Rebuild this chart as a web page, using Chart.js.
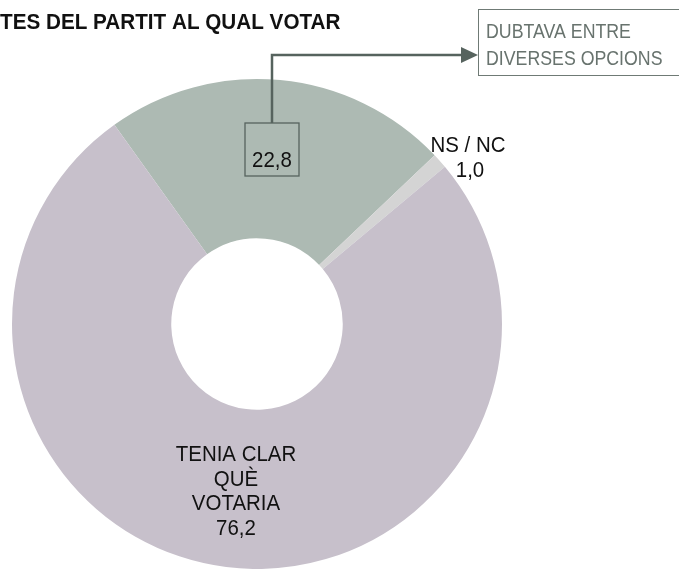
<!DOCTYPE html>
<html>
<head>
<meta charset="utf-8">
<script src="https://cdn.jsdelivr.net/npm/chart.js@4"></script>
<style>
  body { margin: 0; background: #fff; }
  #wrap { width: 679px; height: 569px; overflow: hidden; }
</style>
</head>
<body>
<div id="wrap"><canvas id="chart" width="679" height="569"></canvas></div>
<script>
// dades del gràfic
const categories = ["DUBTAVA ENTRE DIVERSES OPCIONS", "NS / NC", "TENIA CLAR QUÈ VOTARIA"];
const values = [22.8, 1.0, 76.2];
const valueLabels = ["22,8", "1,0", "76,2"];
const sliceColors = ["#adbab3", "#d4d4d4", "#c7c0cb"];
const titleText = "TES DEL PARTIT AL QUAL VOTAR";
const calloutLines = ["DUBTAVA ENTRE", "DIVERSES OPCIONS"];
const mainLabelLines = ["TENIA CLAR", "QUÈ", "VOTARIA"];

const lineColor = "#56635e";

// text una mica estret, com l'Arial de l'original
function drawText(ctx, text, x, y, size, sx, bold, align) {
  ctx.save();
  ctx.translate(x, y);
  ctx.scale(sx, 1);
  ctx.font = (bold ? "bold " : "") + size + "px 'Liberation Sans', Arial, sans-serif";
  ctx.textAlign = align;
  ctx.textBaseline = "alphabetic";
  ctx.fillText(text, 0, 0);
  ctx.restore();
}

// dibuixa títol, etiquetes i la fletxa cap al requadre
const labelsPlugin = {
  id: "labels",
  afterDraw(chart) {
    const ctx = chart.ctx;
    const arc = chart.getDatasetMeta(0).data[0];
    const cx = arc.x;
    const cy = arc.y;

    ctx.save();
    ctx.fillStyle = "#111";
    drawText(ctx, titleText, 0, 29, 22, 0.94, true, "left");

    // requadre "22,8"
    ctx.strokeStyle = lineColor;
    ctx.lineWidth = 1.3;
    ctx.strokeRect(cx - 12, cy - 201, 54, 53);
    ctx.fillStyle = "#111";
    drawText(ctx, valueLabels[0], cx + 15, cy - 157, 22, 0.93, false, "center");

    // fletxa
    ctx.lineWidth = 2.5;
    ctx.beginPath();
    ctx.moveTo(cx + 15, cy - 201);
    ctx.lineTo(cx + 15, cy - 269);
    ctx.lineTo(cx + 206, cy - 269);
    ctx.stroke();
    ctx.fillStyle = lineColor;
    ctx.beginPath();
    ctx.moveTo(cx + 204, cy - 277);
    ctx.lineTo(cx + 221, cy - 269);
    ctx.lineTo(cx + 204, cy - 261);
    ctx.closePath();
    ctx.fill();

    // requadre de la dreta
    ctx.lineWidth = 1;
    ctx.strokeStyle = "#6f7a75";
    ctx.strokeRect(478.5, 9.5, 240, 66);
    ctx.fillStyle = "#68736e";
    drawText(ctx, calloutLines[0], 486, 38, 19.5, 0.91, false, "left");
    drawText(ctx, calloutLines[1], 486, 65, 19.5, 0.91, false, "left");

    // NS / NC
    ctx.fillStyle = "#111";
    drawText(ctx, categories[1], cx + 211, cy - 172, 22, 0.93, false, "center");
    drawText(ctx, valueLabels[1], cx + 213, cy - 147, 22, 0.93, false, "center");

    // etiqueta principal
    const lines = mainLabelLines.concat([valueLabels[2]]);
    lines.forEach((t, i) => {
      drawText(ctx, t, cx - 21, cy + 137 + i * 24.5, 22, 0.93, false, "center");
    });
    ctx.restore();
  },
};

new Chart(document.getElementById("chart"), {
  type: "doughnut",
  data: {
    labels: categories,
    datasets: [
      {
        data: values,
        backgroundColor: sliceColors,
        borderWidth: 0,
        hoverOffset: 0,
      },
    ],
  },
  options: {
    responsive: false,
    animation: false,
    cutout: "35%",
    rotation: -35.6,
    layout: {
      padding: { left: 11.5, right: 176.5, top: 79, bottom: -1.5 },
    },
    plugins: {
      legend: { display: false },
      tooltip: { enabled: false },
    },
  },
  plugins: [labelsPlugin],
});
</script>
</body>
</html>
